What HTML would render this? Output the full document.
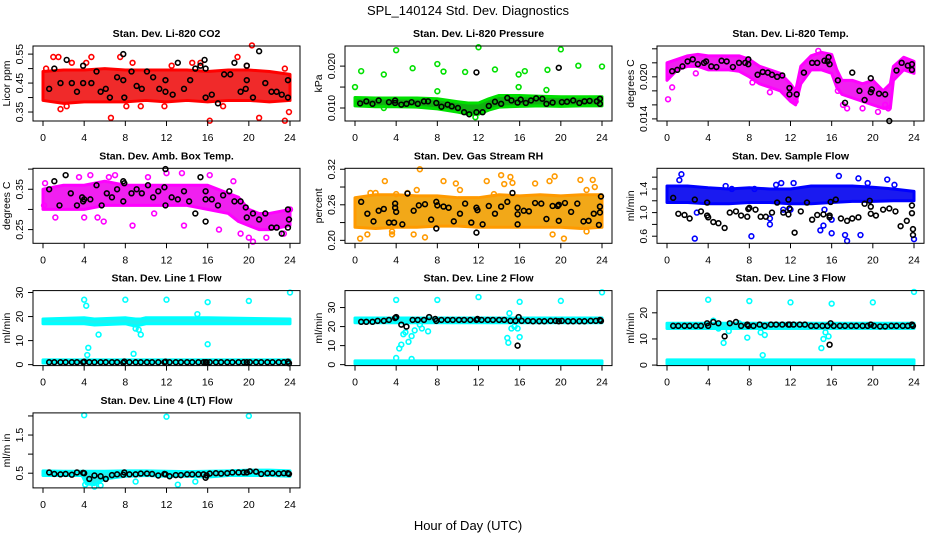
<!DOCTYPE html>
<html><head><meta charset="utf-8">
<style>
html,body{margin:0;padding:0;background:#fff;}
svg{display:block;font-family:"Liberation Sans",sans-serif;}
</style></head>
<body>
<svg id="chart" width="936" height="540" viewBox="0 0 936 540">
<rect x="0" y="0" width="936" height="540" fill="#fff"/>
<text x="468" y="15" font-size="13" text-anchor="middle">SPL_140124  Std. Dev. Diagnostics</text>
<text x="468" y="530" font-size="13" text-anchor="middle">Hour of Day (UTC)</text>
</svg>
<script>
// ---------- DATA ----------
const xTicks = [0,4,8,12,16,20,24];

// P1 CO2
const co2BandH = [0,2,4,6,8,10,12,14,16,18,20,22,24];
const co2BandLo = [0.39,0.38,0.385,0.385,0.385,0.39,0.385,0.39,0.385,0.39,0.39,0.385,0.39];
const co2BandHi = [0.49,0.495,0.495,0.50,0.495,0.495,0.495,0.495,0.49,0.495,0.495,0.49,0.48];
const co2OutX = [1,1.5,0.3,1.7,2.8,4.2,4.7,6.6,7.5,8.1,8.7,11.8,12.5,15.3,16.2,18.9,19.8,20.3,21,23.5,23.9,23.5,2.3,9.5,14.5,17.5];
const co2OutY = [0.54,0.54,0.50,0.36,0.52,0.52,0.54,0.33,0.54,0.37,0.52,0.37,0.51,0.52,0.32,0.54,0.51,0.58,0.33,0.32,0.35,0.50,0.37,0.37,0.52,0.37];
const co2BlkX = [0.6,1.1,1.7,2.3,2.8,3.3,3.9,3.9,4.7,5.2,5.6,6.1,6.5,7.2,7.8,7.8,7.9,8.6,9.1,9.6,10.1,10.7,11.3,11.9,11.9,12.6,13.1,13.7,14.3,14.8,15.3,15.7,15.8,15.8,16.4,17.0,17.6,18.2,18.6,19.2,19.7,19.8,19.8,20.4,21.0,21.6,22.2,22.7,23.2,23.8,23.8];
const co2BlkY = [0.43,0.50,0.45,0.53,0.45,0.42,0.51,0.45,0.45,0.49,0.42,0.43,0.40,0.47,0.46,0.55,0.40,0.49,0.44,0.43,0.49,0.47,0.43,0.42,0.46,0.41,0.52,0.43,0.46,0.50,0.51,0.53,0.50,0.40,0.41,0.38,0.48,0.48,0.52,0.42,0.43,0.46,0.51,0.40,0.56,0.45,0.42,0.42,0.41,0.40,0.46];

// P2 Pressure
const prBandH = [0,2,4,6,8,10,11,12,13,14,16,18,20,22,24];
const prBandLo = [0.0105,0.0103,0.0103,0.0102,0.0098,0.0090,0.0085,0.0085,0.0095,0.0102,0.0104,0.0105,0.0104,0.0105,0.0105];
const prBandHi = [0.0125,0.0124,0.0124,0.0124,0.0122,0.0115,0.0112,0.0112,0.0122,0.0130,0.0130,0.0128,0.0127,0.0127,0.0127];
const prOutX = [0,0.6,2.8,4,5.6,8,8,8.6,10.7,12,13.6,15.9,15.9,16.5,18.6,18.7,20,21.7,24,2.8,11.7];
const prOutY = [0.0150,0.0188,0.0180,0.0238,0.0195,0.0205,0.0140,0.0187,0.0186,0.0245,0.0192,0.0180,0.0150,0.0188,0.0143,0.0191,0.0240,0.0201,0.0199,0.0100,0.0078];
const prBlkX = [0.5,1.1,1.7,2.3,3.3,3.9,3.9,4.5,5.0,5.5,6.1,6.7,7.1,7.9,8.4,9.0,9.4,10.0,10.6,11.1,11.8,11.8,12.4,13.0,13.6,14.2,14.8,15.2,15.8,16.1,16.6,17.1,17.6,18.2,18.6,19.2,19.8,20.1,20.6,21.2,21.8,22.3,22.8,23.5,23.8,23.8];
const prBlkY = [0.0111,0.0116,0.0110,0.0118,0.0114,0.0118,0.0112,0.0108,0.0110,0.0114,0.0110,0.0116,0.0116,0.0112,0.0103,0.0108,0.0104,0.0100,0.0090,0.0085,0.0185,0.0090,0.0090,0.0105,0.0115,0.0110,0.0124,0.0118,0.0113,0.0120,0.0112,0.0118,0.0123,0.0122,0.0110,0.0113,0.0196,0.0114,0.0115,0.0118,0.0112,0.0116,0.0117,0.0116,0.0122,0.0110];

// P3 Li-820 Temp
const tmBandH = [0,1,2,3,4,5,6,7,8,9,10,11,12,12.5,13,14,15,16,16.5,17,18,19,20,21,21.7,22,23,24];
const tmBandLo = [0.0195,0.0210,0.0215,0.0215,0.0210,0.0210,0.0210,0.0208,0.0200,0.0190,0.0185,0.0180,0.0165,0.0160,0.0190,0.0210,0.0210,0.0205,0.0185,0.0175,0.0170,0.0165,0.0160,0.0155,0.0155,0.0195,0.0210,0.0205];
const tmBandHi = [0.0220,0.0225,0.0230,0.0232,0.0230,0.0230,0.0230,0.0230,0.0225,0.0215,0.0210,0.0205,0.0190,0.0180,0.0215,0.0230,0.0235,0.0232,0.0210,0.0195,0.0195,0.0190,0.0195,0.0180,0.0190,0.0215,0.0228,0.0222];
const tmOutX = [0.1,0.5,2.8,8.3,10,14.7,16.6,17.5,17.1,19.0,20.5,21.2,21.5,12.5];
const tmOutY = [0.0168,0.0185,0.0205,0.0192,0.0178,0.0237,0.0180,0.0155,0.0160,0.0155,0.0150,0.0160,0.0155,0.0165];
const tmBlkX = [0.5,1,1.5,2,2.5,3,3.6,3.8,4.3,4.8,5.3,5.8,6.4,7,7.6,7.9,7.9,8.8,9.3,9.8,10.2,10.7,11.2,11.9,11.9,12.6,13.3,14.1,14.6,15.3,15.6,15.7,15.8,16.6,17.3,18.0,18.7,19.2,19.8,19.8,19.9,20.6,21.2,21.6,22.3,22.8,23.4,23.8,23.8];
const tmBlkY = [0.0208,0.0210,0.0215,0.0222,0.0225,0.0218,0.0220,0.0222,0.0215,0.0214,0.0223,0.0222,0.0214,0.0220,0.0220,0.0225,0.0218,0.0203,0.0207,0.0206,0.0203,0.0200,0.0202,0.0184,0.0175,0.0175,0.0206,0.0220,0.0220,0.0223,0.0222,0.0228,0.0218,0.0195,0.0163,0.0206,0.0180,0.0167,0.0178,0.0198,0.0182,0.0176,0.0175,0.0137,0.0209,0.0220,0.0216,0.0218,0.0210];

// P4 Amb Box Temp
const abBandH = [0,2,4,6,8,10,12,14,16,18,19,20,21,22,24];
const abBandLo = [0.30,0.30,0.30,0.31,0.31,0.31,0.31,0.31,0.30,0.29,0.27,0.26,0.25,0.25,0.26];
const abBandHi = [0.35,0.36,0.36,0.37,0.36,0.36,0.36,0.36,0.36,0.34,0.33,0.30,0.29,0.29,0.30];
const abOutX = [0.2,0.1,1.2,3.5,4,4.6,5.3,5.9,6.4,7.0,8.7,10.2,10.8,12,13.5,13.7,16.2,17.1,18.5,19.2,20,20.4,21.7,23.4,24];
const abOutY = [0.365,0.31,0.28,0.38,0.28,0.385,0.28,0.27,0.38,0.385,0.26,0.38,0.29,0.39,0.39,0.26,0.385,0.25,0.37,0.24,0.23,0.22,0.23,0.24,0.30];
const abBlkX = [0.6,1.1,1.6,2.2,2.7,3.3,3.8,3.9,4,4.6,5.2,5.7,6.2,6.7,7.2,7.8,7.9,7.8,8.6,9.1,9.6,10.2,10.7,11.2,11.8,11.9,11.9,12.5,13.1,13.7,14.2,14.8,15.3,15.8,15.8,15.8,16.4,17.0,17.5,18.1,18.6,19.2,19.7,19.8,20.4,21.0,21.6,22.2,22.7,23.2,23.8,23.8,23.9];
const abBlkY = [0.35,0.37,0.31,0.385,0.34,0.31,0.33,0.32,0.325,0.325,0.36,0.31,0.34,0.33,0.35,0.37,0.365,0.32,0.34,0.35,0.34,0.36,0.33,0.345,0.355,0.40,0.31,0.33,0.325,0.345,0.32,0.29,0.38,0.345,0.325,0.27,0.325,0.31,0.335,0.345,0.32,0.32,0.305,0.28,0.29,0.275,0.29,0.255,0.255,0.24,0.30,0.255,0.275];

// P5 Gas Stream RH
const rhBandH = [0,2,4,6,8,10,12,14,16,18,20,22,24];
const rhBandLo = [0.222,0.220,0.222,0.222,0.224,0.224,0.222,0.222,0.222,0.222,0.222,0.220,0.222];
const rhBandHi = [0.272,0.277,0.277,0.275,0.275,0.272,0.272,0.277,0.275,0.277,0.275,0.277,0.277];
const rhOutX = [0.5,1.5,1.2,2.0,2.9,3.6,4.0,5.1,5.7,6.3,6.0,6.8,8.6,9.8,10.2,12.8,13.5,14.2,14.5,15.1,15.3,17.5,18.9,19.2,19.4,20.3,21.9,22.5,23.1,23.3,22.5,3.6];
const rhOutY = [0.203,0.28,0.21,0.28,0.30,0.21,0.278,0.28,0.21,0.32,0.285,0.205,0.30,0.296,0.285,0.30,0.278,0.31,0.295,0.307,0.297,0.296,0.30,0.21,0.308,0.203,0.302,0.285,0.302,0.29,0.215,0.215];
const rhBlkX = [0.6,1.2,1.8,2.3,2.8,3.3,3.8,3.9,3.9,4.0,4.6,5.1,5.7,6.2,6.8,7.4,7.9,7.9,8.0,8.6,9.1,9.6,10.2,10.7,11.3,11.8,11.8,11.9,12.4,13.0,13.6,14.2,14.8,15.3,15.8,15.8,15.8,16.4,16.9,17.5,18.1,18.6,19.2,19.7,19.8,19.8,20.4,21.0,21.6,22.2,22.7,23.2,23.7,23.8,23.8,23.9];
const rhBlkY = [0.265,0.245,0.232,0.25,0.253,0.23,0.23,0.262,0.255,0.248,0.227,0.279,0.25,0.259,0.261,0.235,0.22,0.265,0.259,0.257,0.255,0.232,0.245,0.262,0.23,0.213,0.255,0.251,0.227,0.258,0.245,0.257,0.265,0.28,0.227,0.255,0.244,0.25,0.249,0.263,0.262,0.236,0.258,0.258,0.260,0.233,0.263,0.248,0.262,0.232,0.233,0.245,0.226,0.247,0.257,0.274];

// P6 Sample Flow
const sfBandH = [0,2,4,6,8,10,12,14,16,18,20,22,24];
const sfBandLo = [1.17,1.17,1.15,1.15,1.17,1.17,1.15,1.15,1.17,1.19,1.19,1.20,1.20];
const sfBandHi = [1.45,1.45,1.42,1.40,1.42,1.40,1.40,1.45,1.45,1.45,1.43,1.40,1.36];
const sfOutX = [1.4,1.2,2.7,2.9,5.7,6.3,8.2,8.5,10.0,10.0,10.6,11.1,11.3,12.3,12.0,14.9,15.2,15.3,16.0,16.0,16.7,17.3,17.5,18.6,18.8,19.5,21.4,22.1,24];
const sfOutY = [1.65,1.55,0.56,1.0,1.45,1.4,0.6,1.4,0.9,0.8,1.47,1.5,1.05,1.5,1.05,0.7,0.78,1.05,0.88,0.65,1.62,0.62,0.52,1.58,0.62,1.5,1.56,1.47,0.55];
const sfBlkX = [0.6,1.1,1.7,2.2,2.7,3.3,3.9,3.9,4.0,4.5,5.0,5.6,6.1,6.7,7.2,7.8,7.9,8.0,8.6,9.1,9.6,10.2,10.7,11.3,11.8,11.8,11.9,12.4,13.0,13.6,14.1,14.6,15.2,15.8,15.8,15.9,16.4,16.9,17.5,18.0,18.6,19.2,19.7,19.8,19.8,20.3,21.0,21.6,22.2,22.7,23.3,23.8,23.8,23.9,23.9];
const sfBlkY = [1.25,0.98,0.96,0.9,1.22,1.02,1.17,0.95,0.92,0.84,0.82,0.74,1.0,1.02,0.95,0.93,1.06,1.08,1.05,0.93,0.93,1.0,1.17,1.0,0.97,1.22,1.07,0.66,1.02,1.17,0.88,0.96,0.97,0.92,0.95,1.18,1.22,0.9,0.86,0.9,0.92,1.15,1.2,0.98,1.1,0.95,1.05,1.07,1.02,0.77,0.86,1.12,0.99,0.72,0.62];

// Line flows: shared black timestamps
const lineBlkX = [0.6,1.1,1.7,2.2,2.8,3.3,3.9,4.0,4.5,5.0, 5.6,6.1,6.7,7.2,7.8,7.9,8.4,9.0,9.5,10.1, 10.6,11.2,11.8,11.9,12.3,12.9,13.4,14.0,14.5,15.1, 15.6,15.8,15.9,16.2,16.8,17.3,17.9,18.4,19.0,19.5, 19.8,20.1,20.7,21.2,21.8,22.3,22.9,23.4,23.8,23.9];

// P7 Line 1
const l1UpH = [0,4,5,8,9,9.5,10,16,24];
const l1UpLo = [17,17,16.5,17,16,16.5,17,17,17];
const l1UpHi = [19,19.5,19,19.5,19,19,19.5,19.5,19];
const l1LowH = [0,24];
const l1LowLo = [0.7,0.7];
const l1LowHi = [2,2];
const l1OutX = [4,4.2,4.3,4.4,5.4,8,8.8,9,9.3,9.5,12,15,16,16,20,24];
const l1OutY = [27,24.5,4,7,12.5,27,4.5,15,14.5,12.5,27,21,26,8.5,26.5,30];
const l1BlkY = [1,1,1,1,1,1,1,1.2,1,1, 1,1,1,1,0.8,1.3,1,1,1,1, 1,1,1,1.2,1,1,1,1,1,1, 1,1,1,1,1,1,1,1,1,1, 1,1,1,1,1,1,1,1,1.2,0.6];

// P8 Line 2
const l2UpH = [0,24];
const l2UpLo = [22,22];
const l2UpHi = [24.5,24.5];
const l2LowH = [0,24];
const l2LowLo = [0.4,0.4];
const l2LowHi = [2,2];
const l2OutX = [4,4.3,4.5,4.7,4.9,5.2,5.5,5.8,6.3,6.5,7.1,8,12,14.8,14.9,15.0,15.2,15.5,15.8,16,16,20,24,4,5.5];
const l2OutY = [34,8.5,10.5,16,17,12,15,18,21,19,17.5,34,35.5,14,11.5,27,19,20,19,33,14.5,33.5,38,3.5,3];
const l2BlkY = [22.5,22.5,22.5,23,23,23.5,24.5,25,21,20, 23.5,23.5,23.5,25,24,23,23.5,23.5,23.5,23.5, 23.5,23.5,23.5,24,23.5,23.5,23.5,23.5,23.5,23, 23,10,25,23,23,22.8,22.8,22.8,23,23, 22.8,23,22.8,22.8,22.8,22.8,23,23,23.5,23];

// P9 Line 3
const l3UpH = [0,24];
const l3UpLo = [14,14];
const l3UpHi = [16,16];
const l3LowH = [0,24];
const l3LowLo = [0.4,0.4];
const l3LowHi = [2,2];
const l3OutX = [4,4.5,5,5.5,6,7,8,7.8,9.1,9.5,9.3,12,15,15.2,15.4,15.7,16,20,24];
const l3OutY = [25,17,14,8.5,13,16,24.5,10.5,12.5,11.5,3.8,24,6.5,10,12.5,11,23.5,24,28];
const l3BlkY = [15,15,15,15,15,15,16,15,16.5,16, 11,16,16.5,15,15.5,15,15,15.5,15,15.5, 15.5,15.5,15.5,15.5,15.5,15.5,15.5,15,15,15, 15,7.8,16,15,15,15,15,15,15,15, 15.5,15,14.8,14.8,15,15,15,15,15.5,15];

// P10 Line 4
const l4BandH = [0,2,3.8,4.2,5,6,8,10,12,14,16,18,20,22,24];
const l4BandLo = [0.44,0.44,0.44,0.22,0.20,0.35,0.42,0.44,0.42,0.42,0.40,0.44,0.44,0.44,0.42];
const l4BandHi = [0.56,0.55,0.55,0.55,0.55,0.55,0.56,0.56,0.55,0.54,0.55,0.56,0.58,0.58,0.56];
const l4OutX = [4,12,20,5,4.1,9,13.1,14.8,5.6];
const l4OutY = [2.02,1.98,2.0,0.15,0.2,0.28,0.2,0.28,0.18];
const l4BlkY = [0.52,0.48,0.47,0.48,0.46,0.52,0.51,0.50,0.35,0.44, 0.42,0.35,0.45,0.47,0.46,0.52,0.47,0.47,0.49,0.49, 0.48,0.44,0.48,0.47,0.42,0.45,0.45,0.47,0.47,0.47, 0.47,0.38,0.44,0.49,0.50,0.49,0.50,0.52,0.52,0.52, 0.52,0.55,0.54,0.48,0.50,0.50,0.49,0.50,0.50,0.48];

// ---------- RENDER ----------
const NS = "http://www.w3.org/2000/svg";
const svg = document.getElementById('chart');
function mk(tag, attrs, parent){const e=document.createElementNS(NS,tag);for(const k in attrs)e.setAttribute(k,attrs[k]);(parent||svg).appendChild(e);return e;}

const panels = [
 {title:"Stan. Dev. Li-820 CO2", ylab:"Licor ppm", c:0,r:0, ymin:0.319,ymax:0.578, ticks:[0.35,0.40,0.45,0.50,0.55], labels:["0.35","","0.45","","0.55"], color:"#ff0000", band:"#f02a2a",
  bands:[[co2BandH,co2BandLo,co2BandHi]], out:[co2OutX,co2OutY], blk:[co2BlkX,co2BlkY]},
 {title:"Stan. Dev. Li-820 Pressure", ylab:"kPa", c:1,r:0, ymin:0.0069,ymax:0.0248, ticks:[0.010,0.015,0.020], labels:["0.010","","0.020"], color:"#00e000", band:"#10b010",
  bands:[[prBandH,prBandLo,prBandHi]], out:[prOutX,prOutY], blk:[prBlkX,prBlkY]},
 {title:"Stan. Dev. Li-820 Temp.", ylab:"degrees C", c:2,r:0, ymin:0.0137,ymax:0.0244, ticks:[0.014,0.016,0.018,0.020,0.022,0.024], labels:["0.014","","","0.020","",""], color:"#ff00ff", band:"#f020f0",
  bands:[[tmBandH,tmBandLo,tmBandHi]], out:[tmOutX,tmOutY], blk:[tmBlkX,tmBlkY]},
 {title:"Stan. Dev. Amb. Box Temp.", ylab:"degrees C", c:0,r:1, ymin:0.216,ymax:0.402, ticks:[0.25,0.30,0.35,0.40], labels:["0.25","","0.35",""], color:"#ff00ff", band:"#f020f0",
  bands:[[abBandH,abBandLo,abBandHi]], out:[abOutX,abOutY], blk:[abBlkX,abBlkY]},
 {title:"Stan. Dev. Gas Stream RH", ylab:"percent", c:1,r:1, ymin:0.195,ymax:0.3216, ticks:[0.20,0.23,0.26,0.29,0.32], labels:["0.20","","0.26","","0.32"], color:"#ff9a00", band:"#f2a818",
  bands:[[rhBandH,rhBandLo,rhBandHi]], out:[rhOutX,rhOutY], blk:[rhBlkX,rhBlkY]},
 {title:"Stan. Dev. Sample Flow", ylab:"ml/min", c:2,r:1, ymin:0.48,ymax:1.75, ticks:[0.6,0.8,1.0,1.2,1.4,1.6], labels:["0.6","","1.0","","1.4",""], color:"#0000ff", band:"#1a1af0",
  bands:[[sfBandH,sfBandLo,sfBandHi]], out:[sfOutX,sfOutY], blk:[sfBlkX,sfBlkY]},
 {title:"Stan. Dev. Line 1 Flow", ylab:"ml/min", c:0,r:2, ymin:-0.4,ymax:30.8, ticks:[0,10,20,30], labels:["0","10","20","30"], color:"#00ffff", band:"#20f0f0",
  bands:[[l1UpH,l1UpLo,l1UpHi],[l1LowH,l1LowLo,l1LowHi]], out:[l1OutX,l1OutY], blk:[lineBlkX,l1BlkY]},
 {title:"Stan. Dev. Line 2 Flow", ylab:"ml/min", c:1,r:2, ymin:-0.5,ymax:38.9, ticks:[0,10,20,30], labels:["0","10","20","30"], color:"#00ffff", band:"#20f0f0",
  bands:[[l2UpH,l2UpLo,l2UpHi],[l2LowH,l2LowLo,l2LowHi]], out:[l2OutX,l2OutY], blk:[lineBlkX,l2BlkY]},
 {title:"Stan. Dev. Line 3 Flow", ylab:"ml/min", c:2,r:2, ymin:-0.2,ymax:28.5, ticks:[0,10,20], labels:["0","10","20"], color:"#00ffff", band:"#20f0f0",
  bands:[[l3UpH,l3UpLo,l3UpHi],[l3LowH,l3LowLo,l3LowHi]], out:[l3OutX,l3OutY], blk:[lineBlkX,l3BlkY]},
 {title:"Stan. Dev. Line 4 (LT) Flow", ylab:"ml/m in", c:0,r:3, ymin:0.115,ymax:2.08, ticks:[0.5,1.0,1.5,2.0], labels:["0.5","","1.5",""], color:"#00ffff", band:"#20f0f0",
  bands:[[l4BandH,l4BandLo,l4BandHi]], out:[l4OutX,l4OutY], blk:[lineBlkX,l4BlkY]}
];

panels.forEach((p,pi)=>{
  const left = 33 + 312*p.c, top = 46 + 122.3*p.r, W = 267, H = 75;
  const xs = h => left + 10 + h/24*247;
  const ys = v => top + H - (v - p.ymin)/(p.ymax - p.ymin)*H;
  const g = mk('g',{});
  
  
  const t = mk('text',{x:left+W/2,y:top-9,'font-size':10.5,'font-weight':'bold','text-anchor':'middle'},g);
  t.textContent = p.title;
  
  
  p.bands.forEach(b=>{
    const [hh,lo,hi]=b;
    let pts=[];
    for(let i=0;i<hh.length;i++) pts.push(xs(hh[i])+','+ys(hi[i]));
    for(let i=hh.length-1;i>=0;i--) pts.push(xs(hh[i])+','+ys(lo[i]));
    const poly = mk('polygon',{points:pts.join(' '),fill:p.band,stroke:p.color,'stroke-width':3,'stroke-linejoin':'round'},g);
    
    
  });
  const [ox,oy]=p.out;
  for(let i=0;i<ox.length;i++){
    const c = mk('circle',{cx:xs(ox[i]),cy:ys(oy[i]),r:2.4,fill:'none',stroke:p.color,'stroke-width':1.6},g);
    
    
  }
  const [bx,by]=p.blk;
  for(let i=0;i<bx.length;i++){
    const c = mk('circle',{cx:xs(bx[i]),cy:ys(by[i]),r:2.4,fill:'none',stroke:'#000','stroke-width':1.6},g);
    
    
  }
  const box = mk('rect',{x:left,y:top,width:W,height:H,fill:'none',stroke:'#000','stroke-width':1},g);
  
  
  xTicks.forEach(h=>{
    mk('line',{x1:xs(h),x2:xs(h),y1:top+H,y2:top+H+5,stroke:'#000'},g);
    const tl = mk('text',{x:xs(h),y:top+H+20,'font-size':10.5,'text-anchor':'middle'},g);
    tl.textContent = h;
    
    
  });
  p.ticks.forEach((v,i)=>{
    const y = ys(v);
    if (y < top-1 || y > top+H+1) return;
    mk('line',{x1:left-5,x2:left,y1:y,y2:y,stroke:'#000'},g);
    if (p.labels[i]) {
      const tl = mk('text',{x:left-10,y:y,'font-size':10.5,'text-anchor':'middle',transform:`rotate(-90 ${left-10} ${y})`},g);
      tl.textContent = p.labels[i];
      
      
    }
  });
  const yl = mk('text',{x:left-23,y:top+H/2,'font-size':10.5,'text-anchor':'middle',transform:`rotate(-90 ${left-23} ${top+H/2})`},g);
  yl.textContent = p.ylab;
  
  
});
</script>
</body></html>
